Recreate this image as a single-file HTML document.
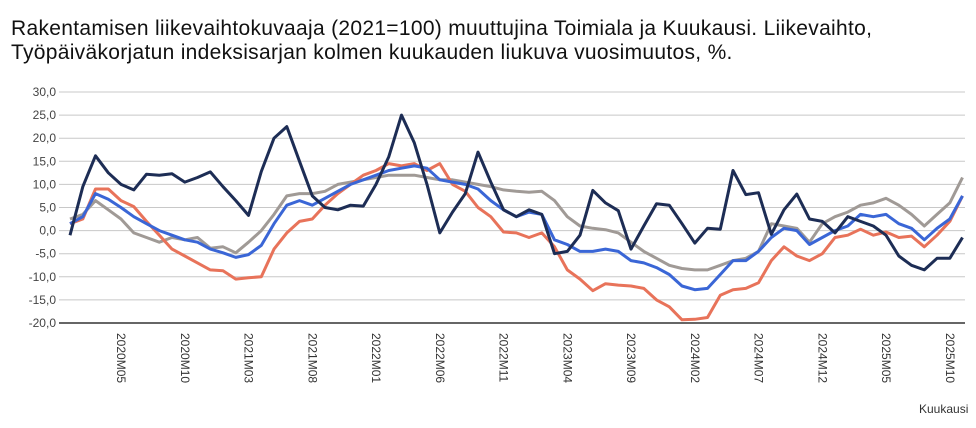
<!DOCTYPE html><html><head><meta charset="utf-8"><style>
body{margin:0;background:#fff;width:976px;height:428px;overflow:hidden;font-family:"Liberation Sans",Arial,sans-serif}
.t{position:absolute;left:11px;top:17px;font-size:21px;line-height:24px;color:#111;white-space:nowrap;letter-spacing:0.3px}
</style></head><body>
<div class="t">Rakentamisen liikevaihtokuvaaja (2021=100) muuttujina Toimiala ja Kuukausi. Liikevaihto,<br>Työpäiväkorjatun indeksisarjan kolmen kuukauden liukuva vuosimuutos, %.</div>
<svg id="s" width="976" height="428" style="position:absolute;left:0;top:0" font-family="Liberation Sans, Arial, sans-serif"></svg>
<script>
const s=document.getElementById('s');let h='';
const Y=v=>230.6-v*4.62, X=i=>70+12.75*i;
for(let v=30;v>=-20;v-=5){const y=Y(v);h+=`<line x1="59" x2="965" y1="${y}" y2="${y}" stroke="${v==-20?'#333':'#c8c8c8'}" stroke-width="${v==-20?1.5:1}"/>`;
h+=`<text x="56" y="${y+4}" font-size="12" fill="#444" text-anchor="end">${v.toFixed(1).replace('.',',')}</text>`;}
const labs=['2020M05','2020M10','2021M03','2021M08','2022M01','2022M06','2022M11','2023M04','2023M09','2024M02','2024M07','2024M12','2025M05','2025M10'];
labs.forEach((l,k)=>{const x=X(4+5*k);h+=`<text transform="translate(${x-4},333) rotate(90)" font-size="12" fill="#333">${l}</text>`;});
h+=`<text x="919" y="413" font-size="12" fill="#333">Kuukausi</text>`;
const gray=[2.5,3.5,6.5,4.5,2.5,-0.5,-1.5,-2.5,-1.5,-2,-1.5,-3.8,-3.5,-4.8,-2.5,0,3.5,7.5,8,8,8.5,10,10.5,11,11.5,12,12,12,11.5,11,11,10.5,10,9.5,8.8,8.5,8.3,8.5,6.5,3,1,0.5,0.2,-0.5,-2.5,-4.5,-6,-7.5,-8.2,-8.5,-8.5,-7.5,-6.5,-6,-4.5,1.5,1,0.5,-2.5,1.5,3,4,5.5,6,7,5.5,3.5,1,3.5,6,11.5];
const red=[1.5,2.5,9,9,6.5,5.2,2,-1,-4,-5.5,-7,-8.5,-8.7,-10.5,-10.2,-10,-4,-0.5,2,2.5,5.5,8,10,12,13,14.5,14,14.5,13,14.5,10,8.5,5,3,-0.3,-0.5,-1.5,-0.5,-3.5,-8.5,-10.5,-13,-11.5,-11.8,-12,-12.5,-15,-16.5,-19.3,-19.2,-18.8,-14,-12.8,-12.5,-11.3,-6.5,-3.5,-5.5,-6.5,-5,-1.5,-1,0.3,-1,-0.3,-1.5,-1.2,-3.5,-1,2,7.5];
const blue=[1.5,3,8,6.8,5,3,1.5,0,-1,-2,-2.5,-4,-4.8,-5.8,-5.2,-3.2,1.5,5.5,6.5,5.5,7,8.5,10,11,12,13,13.5,14,13.5,11,10.5,10,9,6.5,4.5,3,4,3.5,-2,-3,-4.5,-4.5,-4,-4.5,-6.5,-7,-8,-9.5,-12,-12.8,-12.5,-9.5,-6.5,-6.5,-4.5,-1.5,0.5,0,-3,-1.5,0,1,3.5,3,3.5,1.5,0.5,-2,0.5,2.5,7.5];
const navy=[-1,9.5,16.2,12.5,10,8.8,12.2,12,12.3,10.5,11.5,12.7,9.5,6.5,3.3,12.8,20,22.5,15,7.5,5,4.5,5.5,5.3,10,16,25,19,10,-0.5,4,8,17,10.5,4.5,3,4.5,3.5,-5,-4.5,-1,8.7,6,4.3,-4,1,5.8,5.5,1.5,-2.7,0.5,0.3,13,7.8,8.2,-0.8,4.5,7.9,2.5,2,-0.5,3,2,1,-1,-5.5,-7.5,-8.5,-6,-6,-1.5];
[[gray,'#a09a96'],[red,'#e8735a'],[blue,'#3a66d6'],[navy,'#1d2d55']].forEach(([d,c])=>{
h+=`<polyline fill="none" stroke="${c}" stroke-width="3" stroke-linejoin="round" points="${d.map((v,i)=>X(i).toFixed(1)+','+Y(v).toFixed(1)).join(' ')}"/>`;});
s.innerHTML=h;
</script></body></html>
